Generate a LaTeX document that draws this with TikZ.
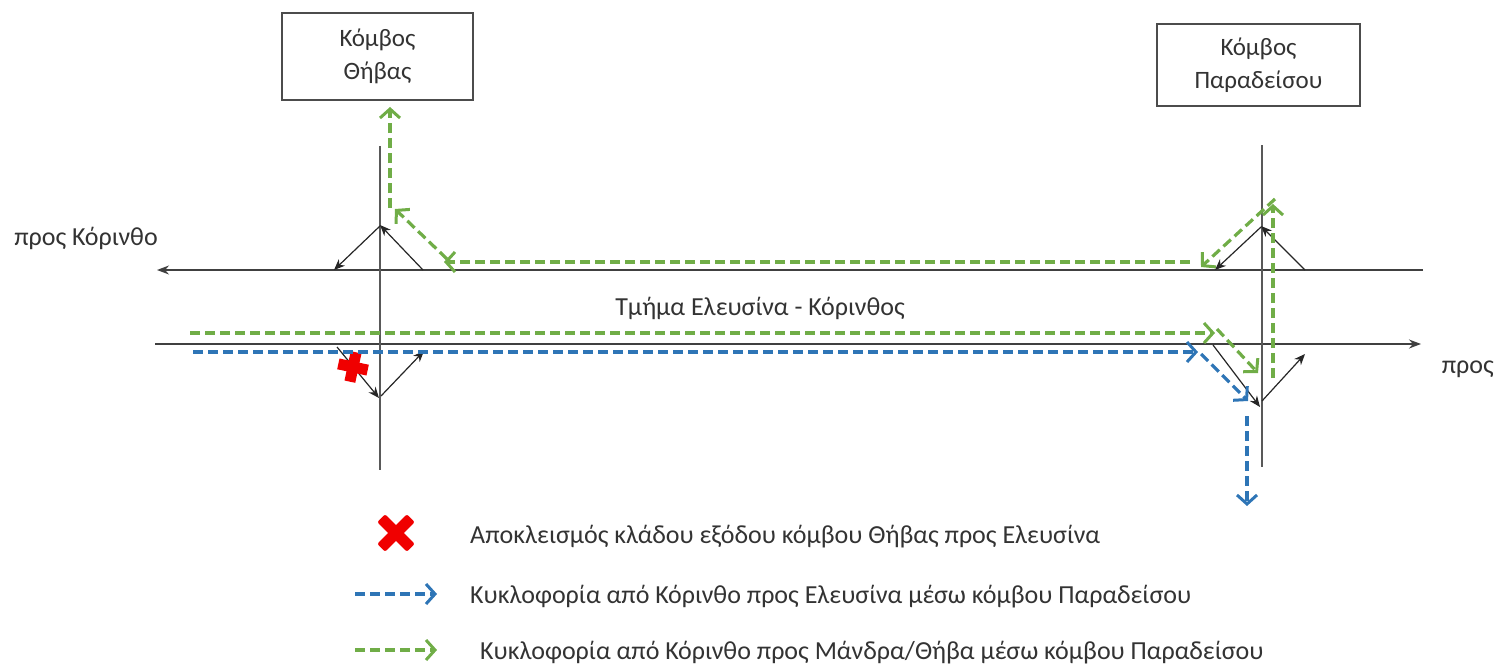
\documentclass[tikz,border=0pt]{standalone}
\usepackage{fontspec}
\setmainfont{Carlito}
\usetikzlibrary{arrows.meta}
\definecolor{gflow}{HTML}{70AD47}
\definecolor{bflow}{HTML}{2E75B6}
\definecolor{txt}{HTML}{333333}
\definecolor{xred}{HTML}{F00000}
\begin{document}
\begin{tikzpicture}[x=1pt,y=-1pt,
  road/.style={draw=black!75, line width=1.4pt},
  roadarrow/.style={road, -{Stealth[length=12pt,width=9pt]}},
  ramp/.style={draw=black!85, line width=1.2pt, -{Stealth[length=11pt,width=9pt]}},
  flow/.style={line width=3.2pt, dash pattern=on 10pt off 5pt,
     -{Straight Barb[length=9pt,width=20pt,line width=3pt]}},
  gflowline/.style={flow, draw=gflow},
  bflowline/.style={flow, draw=bflow},
  jbox/.style={draw=black!70, line width=1.1pt, align=center, text=txt,
     font=\fontsize{25}{33}\selectfont, inner sep=0pt},
  lbl/.style={text=txt, font=\fontsize{26}{30}\selectfont, inner sep=0pt},
]
\useasboundingbox (0,0) rectangle (1495,666);

% junction boxes
\node[jbox, minimum width=191pt, minimum height=87pt] (bThiva) at (377.5,56.5) {Κόμβος\\Θήβας};
\node[jbox, minimum width=203pt, minimum height=82pt] (bParad) at (1258.5,65) {Κόμβος\\Παραδείσου};

% main roads
\coordinate (tR) at (1423,270); \coordinate (tL) at (157,270);
\coordinate (bL) at (155,344);  \coordinate (bR) at (1421,344);
\draw[roadarrow] (tR) -- (tL);
\draw[roadarrow] (bL) -- (bR);

% cross roads
\coordinate (lvT) at (380,146); \coordinate (lvB) at (380,470);
\coordinate (rvT) at (1262,145); \coordinate (rvB) at (1262,467);
\draw[draw=black!65, line width=1.3pt] (lvT) -- (lvB);
\draw[draw=black!65, line width=1.3pt] (rvT) -- (rvB);

% left junction ramps
\coordinate (lA) at (380,226); \coordinate (lA1) at (334,270); \coordinate (lA2) at (423,270);
\coordinate (lB) at (381,396); \coordinate (lB1) at (337,347); \coordinate (lB2) at (424,351);
\draw[ramp] (lA) -- (lA1);
\draw[ramp] (lA2) -- ([yshift=1pt]lA);
\draw[ramp] (lB1) -- ([xshift=-2pt,yshift=-2pt]lB);
\draw[ramp] (lB) -- (lB2);

% right junction ramps
\coordinate (rA) at (1261,227); \coordinate (rA1) at (1215,270); \coordinate (rA2) at (1305,270);
\coordinate (rB) at (1262,401); \coordinate (rB1) at (1213,345); \coordinate (rB2) at (1305,354);
\draw[ramp] (rA) -- (rA1);
\draw[ramp] (rA2) -- ([yshift=1pt]rA);
\draw[ramp] (rB1) -- ([xshift=-2pt,yshift=-6pt]rB);
\draw[ramp] (rB) -- (rB2);

% blocked exit
\begin{scope}[shift={(353,367)}, rotate=-12]
  \fill[xred] (-15,-5.5) rectangle (15,5.5);
  \fill[xred] (-5.5,-15) rectangle (5.5,15);
\end{scope}

% green flow
\coordinate (g0) at (190,333);  \coordinate (g1) at (1215,333);
\coordinate (g2s) at (1217,329); \coordinate (g2) at (1258,373);
\coordinate (g3s) at (1273,378); \coordinate (g3) at (1273,204);
\coordinate (g4s) at (1275,199); \coordinate (g4) at (1201,267);
\coordinate (g5s) at (1190,262); \coordinate (g5) at (444,262);
\coordinate (g6s) at (447,259); \coordinate (g6) at (395,209);
\coordinate (g7s) at (390,208); \coordinate (g7) at (390,107);
\draw[gflowline] (g0) -- (g1);
\draw[gflowline] (g2s) -- (g2);
\draw[gflowline] (g3s) -- (g3);
\draw[gflowline] (g4s) -- (g4);
\draw[gflowline] (g5s) -- (g5);
\draw[gflowline] (g6s) -- (g6);
\draw[gflowline] (g7s) -- (g7);

% blue flow
\coordinate (b0) at (193,352);  \coordinate (b1) at (1198,352);
\coordinate (b2s) at (1201,354); \coordinate (b2) at (1248,401);
\coordinate (b3s) at (1247,416); \coordinate (b3) at (1247,506);
\draw[bflowline] (b0) -- (b1);
\draw[bflowline] (b2s) -- (b2);
\draw[bflowline] (b3s) -- (b3);

% labels
\node[lbl] (toKor) at (86,238) {προς Κόρινθο};
\node[lbl] (sect) at (760,308) {Τμήμα Ελευσίνα - Κόρινθος};
\node[lbl, anchor=east] (toEl) at (1494,369) {προς};

% legend
\begin{scope}[shift={(396,533)}]
  \fill[xred, rotate=45, rounded corners=2pt] (-21,-5.5) rectangle (21,5.5);
  \fill[xred, rotate=-45, rounded corners=2pt] (-21,-5.5) rectangle (21,5.5);
\end{scope}
\coordinate (lg1s) at (355,594); \coordinate (lg1) at (437,594);
\coordinate (lg2s) at (355,650); \coordinate (lg2) at (437,650);
\draw[bflowline] (lg1s) -- (lg1);
\draw[gflowline] (lg2s) -- (lg2);
\node[lbl, anchor=west] (leg0) at (470,537) {Αποκλεισμός κλάδου εξόδου κόμβου Θήβας προς Ελευσίνα};
\node[lbl, anchor=west] (leg1) at (470,597) {Κυκλοφορία από Κόρινθο προς Ελευσίνα μέσω κόμβου Παραδείσου};
\node[lbl, anchor=west] (leg2) at (480,653) {Κυκλοφορία από Κόρινθο προς Μάνδρα/Θήβα μέσω κόμβου Παραδείσου};
\end{tikzpicture}
\end{document}
